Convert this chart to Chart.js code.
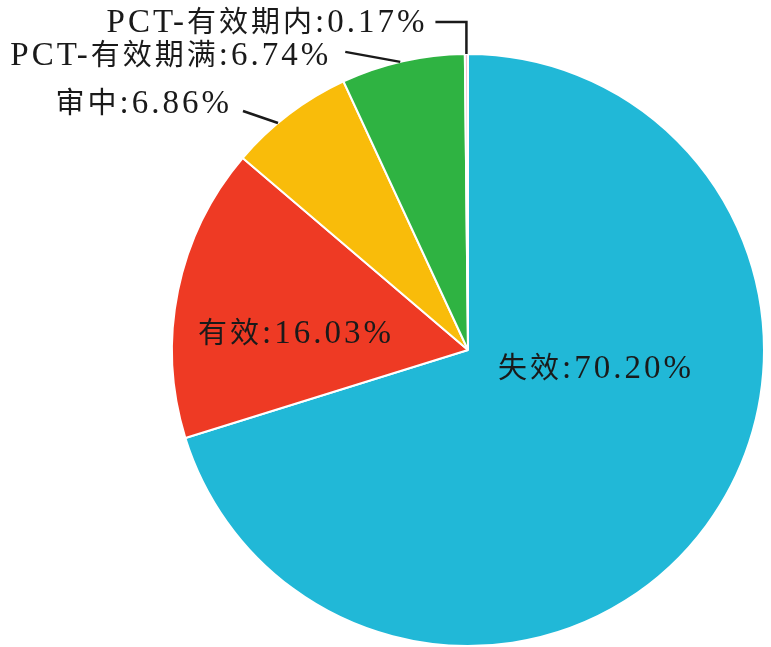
<!DOCTYPE html>
<html>
<head>
<meta charset="utf-8">
<script src="https://cdn.jsdelivr.net/npm/chart.js@4.4.0/dist/chart.umd.min.js"></script>
<style>
  html, body { margin: 0; padding: 0; background: #fff; }
  #wrap { width: 771px; height: 647px; }
</style>
</head>
<body>
<div id="wrap"><canvas id="pie" width="771" height="647"></canvas></div>
<script>
// dados do grafico
const categorias = ['失效', '有效', '审中', 'PCT-有效期满', 'PCT-有效期内'];
const percentuais = [70.20, 16.03, 6.86, 6.74, 0.17];
const cores = ['#21b8d7', '#ee3a24', '#f9bc0a', '#2fb342', '#f5bdd2'];

// posicao dos rotulos (relativa ao centro ou ao ponto na borda da fatia), ty = linha de base
const rotulos = [
  { tipo: 'dentro', dx: 30, dy: 28, align: 'left' },
  { tipo: 'dentro', dx: -172, dy: -7, align: 'center' },
  { tipo: 'fora', frac: 0.39, linha: [[-35, -12]], tx: -46, ty: -10 },
  { tipo: 'fora', frac: 0.48, linha: [[-55, -10]], tx: -69, ty: 3 },
  { tipo: 'fora', frac: 0.5, linha: [[0, -32], [-31, -32]], tx: -39, ty: -22 }
];

const fonteCJK = '29px "Noto Sans CJK SC"';
const fonteLatina = '33px "Liberation Serif"';

// separa o texto em pedacos CJK / latinos
function pedacos(txt) {
  const out = [];
  for (const ch of txt) {
    const cjk = /[\u4e00-\u9fff]/.test(ch);
    const ultimo = out[out.length - 1];
    if (ultimo && ultimo.cjk === cjk) ultimo.s += ch;
    else out.push({ s: ch, cjk: cjk });
  }
  return out;
}

function escreve(ctx, txt, x, y, align) {
  const ps = pedacos(txt);
  let total = 0;
  ps.forEach(p => {
    ctx.font = p.cjk ? fonteCJK : fonteLatina;
    p.w = ctx.measureText(p.s).width;
    total += p.w;
  });
  let cx = x;
  if (align === 'center') cx = x - total / 2;
  else if (align === 'right') cx = x - total;
  ps.forEach(p => {
    ctx.font = p.cjk ? fonteCJK : fonteLatina;
    ctx.fillText(p.s, cx, y);
    cx += p.w;
  });
}

const labelsPlugin = {
  id: 'labelsPlugin',
  afterDatasetsDraw(chart) {
    const ctx = chart.ctx;
    const meta = chart.getDatasetMeta(0);
    ctx.save();
    ctx.letterSpacing = '3px';
    ctx.fillStyle = '#1a1a1a';
    ctx.strokeStyle = '#1a1a1a';
    ctx.lineWidth = 2.5;
    ctx.textBaseline = 'alphabetic';
    ctx.textAlign = 'left';

    meta.data.forEach((arc, i) => {
      const r = rotulos[i];
      const txt = categorias[i] + ':' + percentuais[i].toFixed(2) + '%';
      const p = arc.getProps(['x', 'y', 'startAngle', 'endAngle', 'outerRadius'], true);
      if (r.tipo === 'dentro') {
        escreve(ctx, txt, p.x + r.dx, p.y + r.dy, r.align);
      } else {
        const ang = p.startAngle + (p.endAngle - p.startAngle) * r.frac;
        const ax = p.x + Math.cos(ang) * p.outerRadius;
        const ay = p.y + Math.sin(ang) * p.outerRadius;
        ctx.beginPath();
        ctx.moveTo(ax, ay);
        r.linha.forEach(pt => ctx.lineTo(ax + pt[0], ay + pt[1]));
        ctx.stroke();
        escreve(ctx, txt, ax + r.tx, ay + r.ty, 'right');
      }
    });
    ctx.restore();
  }
};

const grafico = new Chart(document.getElementById('pie'), {
  type: 'pie',
  data: {
    labels: categorias,
    datasets: [{
      data: percentuais,
      backgroundColor: cores,
      borderColor: '#ffffff',
      borderWidth: 2,
      hoverOffset: 0,
      radius: 296
    }]
  },
  options: {
    responsive: false,
    animation: false,
    layout: { padding: { left: 165, right: 0, top: 53, bottom: 0 } },
    plugins: {
      legend: { display: false },
      tooltip: { enabled: false }
    }
  },
  plugins: [labelsPlugin]
});
</script>
</body>
</html>
